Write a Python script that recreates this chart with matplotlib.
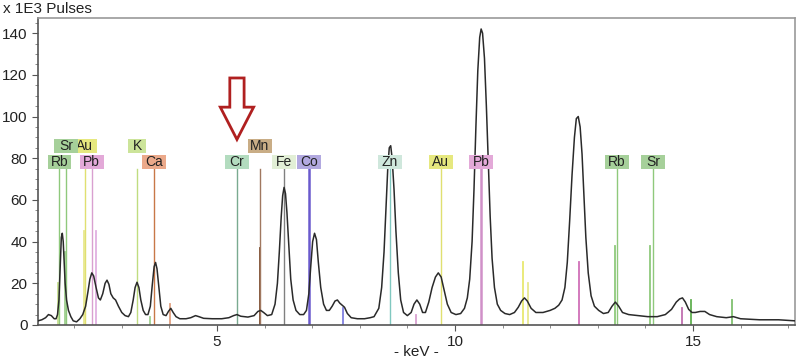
import matplotlib.pyplot as plt
from matplotlib.patches import FancyArrow, Rectangle
from matplotlib.ticker import MultipleLocator

plt.rcParams['font.family'] = ['Liberation Sans', 'DejaVu Sans']

# spectrum (keV, x1E3 pulses)
kev = [1.24, 1.32, 1.40, 1.46, 1.52, 1.58, 1.62, 1.65, 1.68, 1.71, 1.73, 1.75,
       1.77, 1.79, 1.81, 1.84, 1.88, 1.93, 1.98, 2.05, 2.12, 2.18, 2.24, 2.29,
       2.33, 2.37, 2.41, 2.46, 2.51, 2.55, 2.60, 2.65, 2.69, 2.73, 2.77, 2.82,
       2.87, 2.93, 3.00, 3.07, 3.14, 3.19, 3.24, 3.28, 3.32, 3.36, 3.40, 3.45,
       3.50, 3.55, 3.60, 3.64, 3.68, 3.71, 3.74, 3.78, 3.82, 3.87, 3.93, 3.98,
       4.03, 4.08, 4.14, 4.22, 4.35, 4.45, 4.55, 4.62, 4.72, 4.90, 5.10, 5.25,
       5.35, 5.42, 5.50, 5.65, 5.78, 5.86, 5.92, 5.98, 6.06, 6.15, 6.22, 6.27,
       6.31, 6.35, 6.38, 6.41, 6.44, 6.47, 6.51, 6.55, 6.60, 6.66, 6.74, 6.82,
       6.88, 6.93, 6.97, 7.01, 7.05, 7.09, 7.13, 7.18, 7.24, 7.30, 7.36, 7.42,
       7.48, 7.53, 7.58, 7.63, 7.68, 7.74, 7.82, 7.95, 8.10, 8.22, 8.30, 8.40,
       8.46, 8.51, 8.55, 8.59, 8.62, 8.65, 8.68, 8.72, 8.76, 8.81, 8.86, 8.92,
       9.00, 9.08, 9.14, 9.20, 9.26, 9.32, 9.38, 9.45, 9.52, 9.59, 9.65, 9.71,
       9.77, 9.84, 9.92, 10.02, 10.12, 10.20, 10.26, 10.31, 10.36, 10.40, 10.44,
       10.48, 10.52, 10.55, 10.58, 10.62, 10.66, 10.70, 10.74, 10.78, 10.83,
       10.89, 10.96, 11.05, 11.15, 11.25, 11.33, 11.40, 11.46, 11.52, 11.60,
       11.70, 11.85, 12.00, 12.10, 12.18, 12.25, 12.31, 12.36, 12.41, 12.46,
       12.51, 12.55, 12.59, 12.63, 12.67, 12.71, 12.75, 12.80, 12.86, 12.93,
       13.02, 13.12, 13.22, 13.30, 13.37, 13.44, 13.52, 13.65, 13.85, 14.05,
       14.25, 14.42, 14.55, 14.65, 14.72, 14.78, 14.84, 14.91, 14.98, 15.05,
       15.15, 15.25, 15.35, 15.50, 15.70, 15.85, 16.00, 16.40, 16.80, 17.14]
pulses = [2, 2.5, 3.5, 5, 4.5, 3, 3, 5, 12, 30, 42, 44,
          40, 30, 20, 12, 7, 4, 2, 1.5, 3, 5, 9, 16,
          22, 25, 23.5, 18, 13, 12, 15, 20, 21.5, 19.5, 15, 13,
          12, 9, 6, 4.5, 4, 6, 12, 18, 20.5, 18, 12, 7,
          5, 5, 9, 19, 28, 30, 27, 18, 9, 5, 4.5, 6.5,
          8, 6, 4, 3, 3, 3.5, 4.5, 4, 3.2, 3, 3, 3.5,
          4.5, 5, 4.2, 3.8, 4.5, 6.5, 7, 6, 4.5, 5, 10, 20,
          35, 52, 62, 66, 63, 54, 38, 22, 12, 7, 5, 5,
          7, 15, 28, 40, 44, 41, 30, 18, 10, 7, 7, 9,
          11.5, 12, 10.5, 9.5, 8.5, 5.5, 3.5, 3, 3, 3.5, 4, 8,
          18, 35, 55, 76, 85, 86, 80, 65, 45, 25, 12, 6,
          4.5, 6, 10, 12, 10, 6, 6, 11, 18, 23, 25, 23,
          17, 10, 6, 5, 5.5, 8, 13, 22, 40, 65, 95,
          122, 138, 142, 140, 128, 105, 78, 52, 32, 18,
          10, 7, 5.5, 5, 6, 8.5, 11.5, 13, 11.5, 8,
          6, 6, 7, 8, 9.5, 12, 18, 30, 50, 72,
          90, 99, 100, 95, 82, 62, 42, 25, 14, 9,
          7, 5.5, 6, 9, 11, 9, 6, 5, 4.5, 4,
          4, 5, 7.5, 11, 12.5, 13, 11, 7.5, 6, 6,
          6.5, 6.5, 5, 4, 3.5, 4, 3, 2.5, 2.5, 2]

# element labels (drawn in this order, later ones on top)
labels = ['Rb', 'Au', 'Sr', 'Pb', 'K', 'Ca', 'Cr', 'Mn', 'Fe', 'Co',
          'Zn', 'Au', 'Pb', 'Rb', 'Sr']
label_kev = [1.69, 2.22, 1.83, 2.37, 3.32, 3.67, 5.42, 5.90, 6.41, 6.93,
             8.63, 9.70, 10.55, 13.40, 14.16]
label_row = [0, 1, 1, 0, 1, 0, 0, 1, 0, 0, 0, 0, 0, 0, 0]
box_colors = ['#a6d09a', '#e6e87f', '#a6d09a', '#e3a9d8', '#cce49a',
              '#eba98a', '#b3dcbf', '#c9ad86', '#e2efd6', '#b2a9e0',
              '#cfe7dc', '#e6e87f', '#e3a9d8', '#a6d09a', '#a6d09a']
line_colors = ['#8fc97c', '#e0e070', '#8fc97c', '#d9a0d0', '#c0dc80',
               '#c87848', '#7aaa90', '#a07860', '#808080', '#6a5acd',
               '#80c8c0', '#e0e070', '#d090c8', '#8fc97c', '#8fc97c']

# short reference lines without labels
stick_kev = [1.66, 1.81, 2.20, 2.45, 3.59, 4.01, 5.90, 7.65, 9.18, 11.44,
             11.53, 12.61, 13.36, 14.10, 14.78, 14.96, 15.82]
stick_height = [20, 35, 45, 45, 4, 10, 37, 8, 5, 30, 20, 30, 38, 38, 8, 12, 12]
stick_colors = ['#c8e090', '#a0d090', '#e8e890', '#e0b0e0', '#a0d090',
                '#e0a080', '#7a4a2b', '#8080e0', '#d8a0d0', '#e8e870',
                '#e8e890', '#d070b8', '#8fc97c', '#8fc97c', '#c070b0',
                '#60b050', '#80c070']

fig = plt.figure(figsize=(8, 3.63), dpi=100)
ax = fig.add_axes([0.0475, 0.1047, 0.946, 0.8453])

for x, h, c in zip(stick_kev, stick_height, stick_colors):
    ax.plot([x, x], [0, h], color=c, lw=1.3, zorder=1)

row_y = [78.3, 86.0]
box_h = 6.8
for i, (name, x, r, bc, lc) in enumerate(zip(labels, label_kev, label_row,
                                              box_colors, line_colors)):
    lw = 1.8 if name in ('Co', 'Pb') and x > 5 else 1.0
    ax.plot([x, x], [0, 74.9], color=lc, lw=lw, zorder=1)
    w = 0.36 if len(name) == 1 else 0.5
    ax.add_patch(Rectangle((x - w / 2, row_y[r] - box_h / 2), w, box_h,
                           fc=bc, ec='none', zorder=4 + i * 0.01))
    ax.text(x, row_y[r], name, ha='center', va='center', fontsize=10,
            color='#222222', zorder=4.005 + i * 0.01)

ax.plot(kev, pulses, color='#2a2a2a', lw=1.1, zorder=3)

# hollow red arrow pointing at Cr
arrow_x = label_kev[labels.index('Cr')]
ax.add_patch(FancyArrow(arrow_x, 118.5, 0, -29.5, width=0.3, head_width=0.7,
                        head_length=15.5, length_includes_head=True,
                        fill=False, ec='#b02020', lw=2, zorder=5))

ax.set_xlim(1.24, 17.14)
ax.set_ylim(0, 147.2)
ax.set_xticks([5, 10, 15])
ax.xaxis.set_minor_locator(MultipleLocator(1))
ax.set_yticks(range(0, 141, 20))
ax.yaxis.set_minor_locator(MultipleLocator(5))
ax.tick_params(axis='both', which='major', labelsize=11, length=4,
               color='#555555', labelcolor='#222222')
ax.tick_params(axis='both', which='minor', length=2, color='#777777')

for s in ('left', 'bottom'):
    ax.spines[s].set_color('#555555')
    ax.spines[s].set_linewidth(1.2)
for s in ('top', 'right'):
    ax.spines[s].set_color('#999999')
    ax.spines[s].set_linewidth(1.2)

fig.text(0.004, 0.975, 'x 1E3 Pulses', fontsize=11, color='#222222',
         va='center', ha='left')
fig.text(0.521, 0.03, '- keV -', fontsize=11, color='#222222',
         va='center', ha='center')

fig.savefig('out.png', dpi=100)
